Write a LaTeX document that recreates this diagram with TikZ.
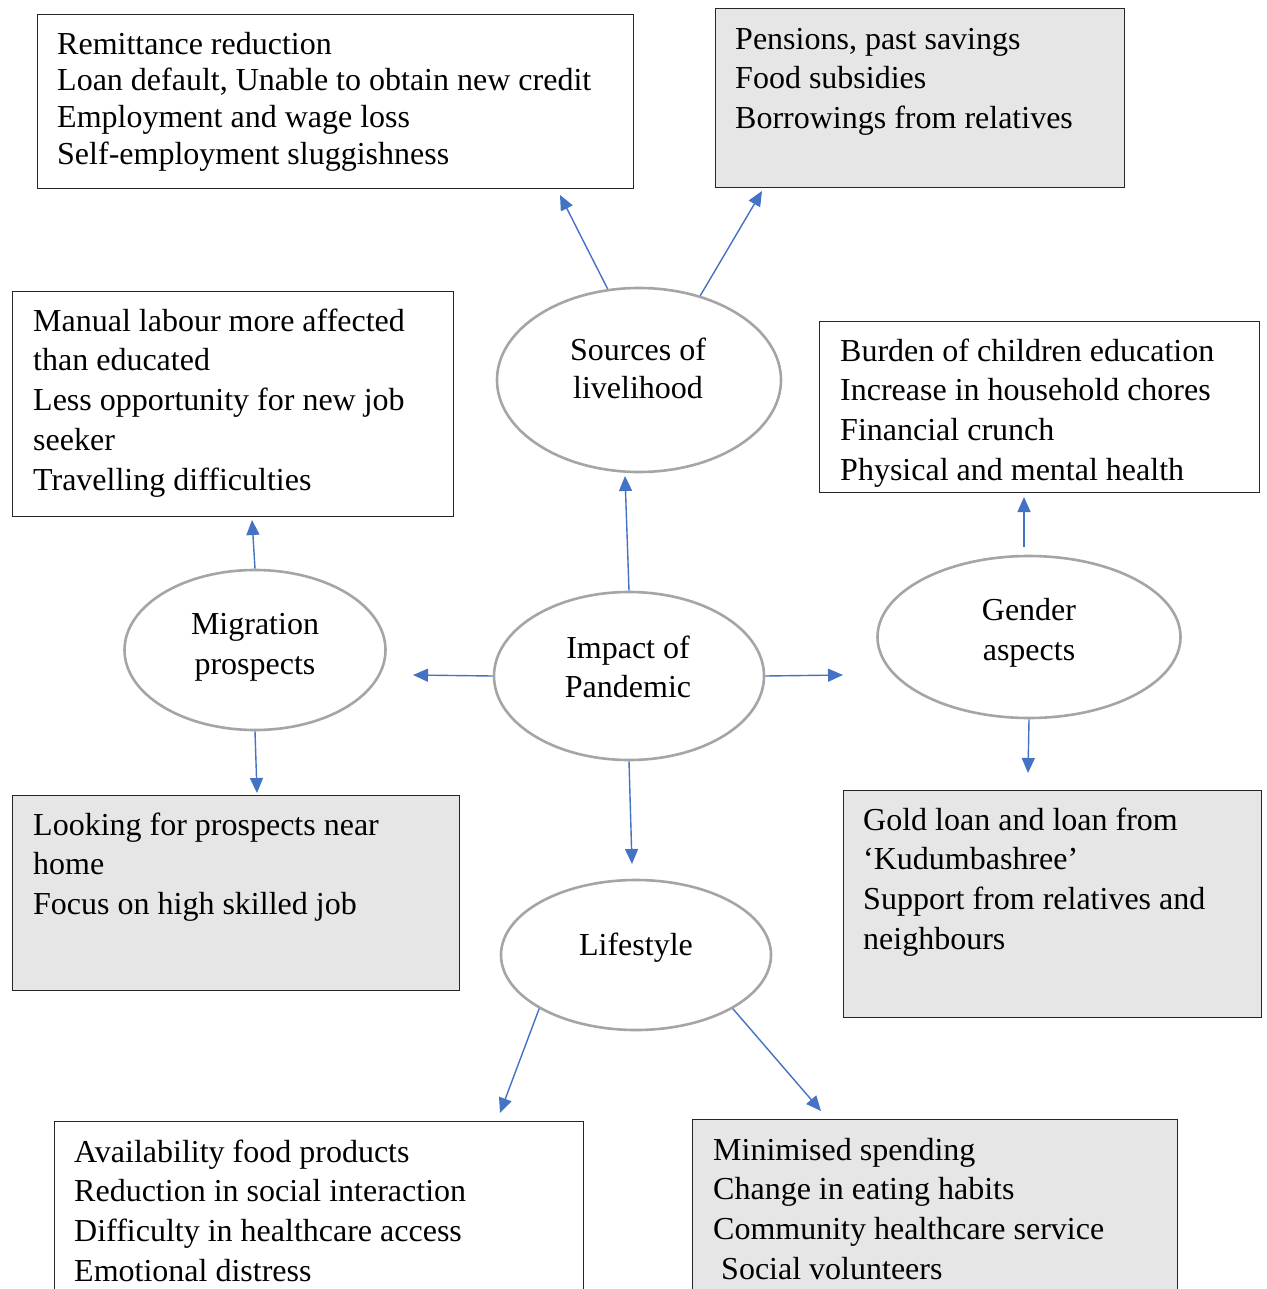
\documentclass[tikz,border=0pt]{standalone}
\usepackage{fontspec}
\setmainfont{Liberation Serif}
\usetikzlibrary{arrows.meta,shapes.geometric}
\definecolor{arrblue}{HTML}{4472C4}
\definecolor{ellgray}{HTML}{A5A5A5}
\definecolor{boxfill}{HTML}{E7E6E6}
\newcommand{\Fsz}[1]{\fontsize{32}{#1}\selectfont}
\tikzset{
  box/.style={draw=black!85, line width=1.3pt, rectangle, inner sep=0pt, anchor=north west},
  graybox/.style={box, fill=boxfill},
  ell/.style={draw=ellgray, line width=2.6pt, ellipse, inner sep=0pt, fill=white},
  btxt/.style={anchor=north west, inner sep=0pt, align=left},
  etxt/.style={anchor=north, inner sep=0pt, align=center},
  conn/.style={draw=arrblue, line width=1.4pt, -{Triangle[length=15pt,width=13pt]}}
}
\begin{document}
\begin{tikzpicture}[x=1pt,y=-1pt]
\clip (0,0) rectangle (1266,1289);
\fill[white] (0,0) rectangle (1266,1289);
% boxes
\node[box, minimum width=596, minimum height=174] (b1) at (37,14) {};
\node[btxt, font=\Fsz{36.7}] (t1) at (57,28.3) {\strut Remittance reduction\\Loan default, Unable to obtain new credit\\Employment and wage loss\\Self-employment sluggishness};
\node[graybox, minimum width=409, minimum height=179] (b2) at (715,8) {};
\node[btxt, font=\Fsz{39.5}] (t2) at (735,21.4) {\strut Pensions, past savings\\Food subsidies\\Borrowings from relatives};
\node[box, minimum width=441, minimum height=225] (b3) at (12,291) {};
\node[btxt, font=\Fsz{39.75}] (t3) at (33,303.2) {\strut Manual labour more affected\\than educated\\Less opportunity for new job\\seeker\\Travelling difficulties};
\node[box, minimum width=440, minimum height=171] (b4) at (819,321) {};
\begin{scope}
\clip (b4.north west) rectangle (b4.south east);
\node[btxt, font=\Fsz{39.7}] (t4) at (840,333.2) {\strut Burden of children education\\Increase in household chores\\Financial crunch\\Physical and mental health};
\end{scope}
\node[graybox, minimum width=447, minimum height=195] (b5) at (12,795) {};
\node[btxt, font=\Fsz{39.5}] (t5) at (33,807.4) {\strut Looking for prospects near\\home\\Focus on high skilled job};
\node[graybox, minimum width=418, minimum height=227] (b6) at (843,790) {};
\node[btxt, font=\Fsz{39.7}] (t6) at (863,802.2) {\strut Gold loan and loan from\\‘Kudumbashree’\\Support from relatives and\\neighbours};
\node[box, minimum width=529, minimum height=200] (b7) at (54,1121) {};
\node[btxt, font=\Fsz{39.7}] (t7) at (74,1134.2) {\strut Availability food products\\Reduction in social interaction\\Difficulty in healthcare access\\Emotional distress};
\node[graybox, minimum width=485, minimum height=200] (b8) at (692,1119) {};
\node[btxt, font=\Fsz{39.7}] (t8) at (713,1132.2) {\strut Minimised spending\\Change in eating habits\\Community healthcare service\\\hspace{8pt}Social volunteers};
% ellipses
\node[ell, minimum width=284, minimum height=184] (sources) at (639,380) {};
\node[etxt, font=\Fsz{38}] (es) at (638,333.4) {\strut Sources of\\livelihood};
\node[ell, minimum width=270, minimum height=168] (impact) at (629,676) {};
\node[etxt, font=\Fsz{39}] (ei) at (628,630.7) {\strut Impact of\\Pandemic};
\node[ell, minimum width=261, minimum height=160] (migration) at (255,650) {};
\node[etxt, font=\Fsz{40}] (em) at (255,606) {\strut Migration\\prospects};
\node[ell, minimum width=303, minimum height=162] (gender) at (1029,637) {};
\node[etxt, font=\Fsz{40}] (eg) at (1029,592) {\strut Gender\\aspects};
\node[ell, minimum width=270, minimum height=150] (lifestyle) at (636,955) {};
\node[anchor=base, inner sep=0pt, font=\Fsz{40}] (el) at (636,955) {Lifestyle};
% arrow tips
\coordinate (p1) at (560,195);
\coordinate (p2) at (762,191);
\coordinate (p3) at (625,476);
\coordinate (p4) at (413,675);
\coordinate (p5) at (843,675);
\coordinate (p6) at (632,864);
\coordinate (p7) at (252,520);
\coordinate (p8) at (257,793);
\coordinate (p9) at (1024,497);
\coordinate (p10) at (1028,773);
\coordinate (p11) at (500,1113);
\coordinate (p12) at (821,1111);
% connectors
\draw[conn] (sources.109) -- (p1);
\draw[conn] (sources.54) -- (p2);
\draw[conn] (impact.north) -- (p3);
\draw[conn] (impact.west) -- (p4);
\draw[conn] (impact.east) -- (p5);
\draw[conn] (impact.south) -- (p6);
\draw[conn] (migration.north) -- (p7);
\draw[conn] (migration.south) -- (p8);
\draw[conn, shorten <=8pt] ([xshift=-5pt]gender.north) -- (p9);
\draw[conn] (gender.south) -- (p10);
\draw[conn] (lifestyle.209) -- (p11);
\draw[conn] (lifestyle.331) -- (p12);
\end{tikzpicture}
\end{document}
